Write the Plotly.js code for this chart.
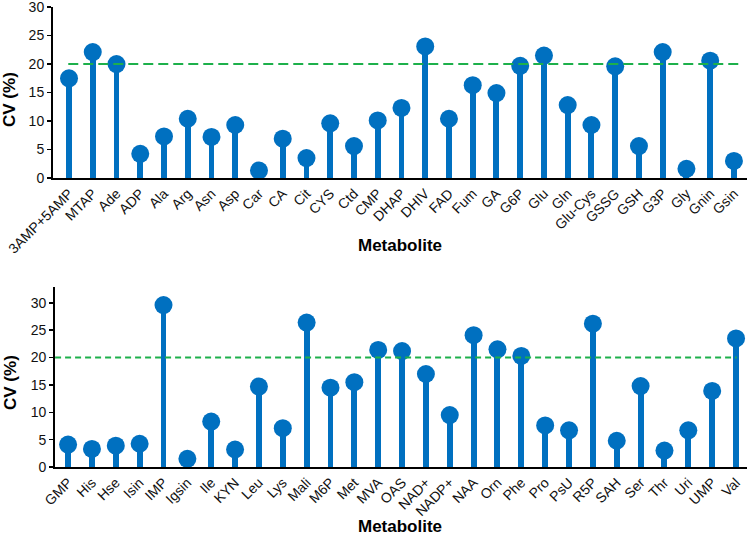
<!DOCTYPE html>
<html>
<head>
<meta charset="utf-8">
<script src="https://cdn.plot.ly/plotly-3.0.1.min.js"></script>
<style>html,body{margin:0;padding:0;background:#fff;}#chart{width:749px;height:539px;}</style>
</head>
<body>
<div id="chart"></div>
<script>
const topNames = ["3AMP+5AMP","MTAP","Ade","ADP","Ala","Arg","Asn","Asp","Car","CA","Cit","CYS","Ctd","CMP","DHAP","DHIV","FAD","Fum","GA","G6P","Glu","Gln","Glu-Cys","GSSG","GSH","G3P","Gly","Gnin","Gsin"];
const topCV = [17.5,22.1,20.0,4.25,7.3,10.4,7.2,9.3,1.3,6.9,3.5,9.6,5.6,10.1,12.3,23.1,10.4,16.3,14.9,19.7,21.5,12.8,9.3,19.6,5.6,22.1,1.6,20.6,3.0];
const botNames = ["GMP","His","Hse","Isin","IMP","Igsin","Ile","KYN","Leu","Lys","Mali","M6P","Met","MVA","OAS","NAD+","NADP+","NAA","Orn","Phe","Pro","PsU","R5P","SAH","Ser","Thr","Uri","UMP","Val"];
const botCV = [4.1,3.3,3.9,4.25,29.6,1.5,8.3,3.2,14.7,7.1,26.4,14.5,15.5,21.4,21.2,17.0,9.5,24.1,21.5,20.3,7.6,6.7,26.2,4.8,14.8,3.0,6.7,13.9,23.5];
const threshold = 20;
const yTicks = [0,5,10,15,20,25,30];
const yTitle = "CV (%)";
const xTitle = "Metabolite";

const blue = "#0070C0";
const green = "#1DB04B";
const font = "Liberation Sans, Arial, sans-serif";

function stems(x, y, xa, ya) {
  return {type:"bar", x:x, y:y, xaxis:xa, yaxis:ya, width:0.25,
    marker:{color:blue, line:{width:0}}, hoverinfo:"skip", showlegend:false};
}
function heads(x, y, xa, ya) {
  return {type:"scatter", mode:"markers", x:x, y:y, xaxis:xa, yaxis:ya,
    marker:{color:blue, size:18, line:{width:0}}, showlegend:false, cliponaxis:false};
}

const data = [
  stems(topNames, topCV, "x", "y"), heads(topNames, topCV, "x", "y"),
  stems(botNames, botCV, "x2", "y2"), heads(botNames, botCV, "x2", "y2")
];

const xCommon = {type:"category", showline:true, linecolor:"#000", linewidth:2, ticks:"",
  tickangle:-45, tickfont:{family:font, size:14, color:"#111"}, showgrid:false, zeroline:false, fixedrange:true};
const yCommon = {showline:true, linecolor:"#000", linewidth:2, ticks:"outside", ticklen:4, tickwidth:1.5, tickcolor:"#000",
  tickfont:{family:font, size:14, color:"#111"}, showgrid:false, zeroline:false,
  tickmode:"array", tickvals:yTicks, ticktext:yTicks.map(String), ticklabeloverflow:"allow", fixedrange:true};

const layout = {
  width:749, height:539,
  margin:{l:53, r:2, t:7, b:72},
  paper_bgcolor:"#fff", plot_bgcolor:"#fff",
  bargap:0,
  xaxis: Object.assign({}, xCommon, {domain:[0,1], anchor:"y", range:[-0.674, 28.55]}),
  yaxis: Object.assign({}, yCommon, {domain:[0.6283,1], anchor:"x", range:[0,30.02]}),
  xaxis2: Object.assign({}, xCommon, {domain:[0.003,1], anchor:"y2", range:[-0.545, 28.46]}),
  yaxis2: Object.assign({}, yCommon, {domain:[0,0.3913], anchor:"x2", range:[0,32.9]}),
  shapes:[
    {type:"line", xref:"x domain", yref:"y", x0:0.022, x1:0.99, y0:threshold, y1:threshold, layer:"above",
      line:{color:green, width:2, dash:"10px,5px"}},
    {type:"line", xref:"x2 domain", yref:"y2", x0:0.0, x1:0.985, y0:threshold, y1:threshold, layer:"above",
      line:{color:green, width:2, dash:"6px,4px"}}
  ],
  annotations:[
    {text:"<b>"+xTitle+"</b>", xref:"paper", yref:"paper", x:0.5, y:0.4826, showarrow:false, font:{family:font, size:17, color:"#000"}, yanchor:"middle"},
    {text:"<b>"+xTitle+"</b>", xref:"paper", yref:"paper", x:0.5, y:-0.1304, showarrow:false, font:{family:font, size:17, color:"#000"}, yanchor:"middle"},
    {text:"<b>"+yTitle+"</b>", xref:"paper", yref:"paper", x:-0.062, y:1-(99-7)/460, textangle:-90, showarrow:false, font:{family:font, size:17, color:"#000"}, xanchor:"center", yanchor:"middle"},
    {text:"<b>"+yTitle+"</b>", xref:"paper", yref:"paper", x:-0.062, y:1-(382-7)/460, textangle:-90, showarrow:false, font:{family:font, size:17, color:"#000"}, xanchor:"center", yanchor:"middle"}
  ]
};

Plotly.newPlot("chart", data, layout, {displayModeBar:false, staticPlot:true});
</script>
</body>
</html>
